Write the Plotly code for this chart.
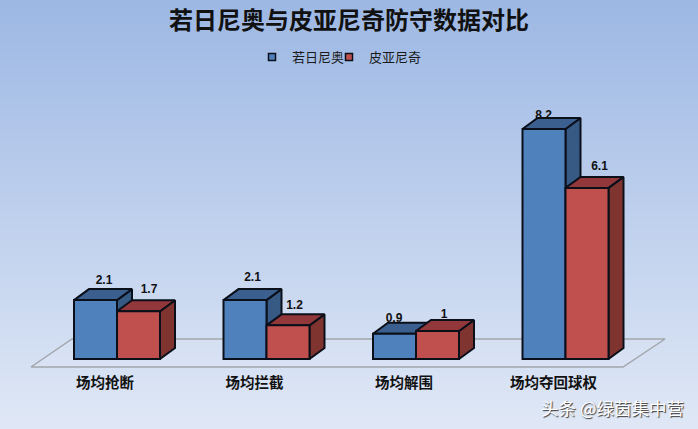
import plotly.graph_objects as go

# 数据
categories = ['场均抢断', '场均拦截', '场均解围', '场均夺回球权']
series_names = ['若日尼奥', '皮亚尼奇']
brazil = [2.1, 2.1, 0.9, 8.2]
pjanic = [1.7, 1.2, 1.0, 6.1]
# 标签文字的像素微调
lift_blue = [8, 11, 4, 2]
lift_red = [10, 8, 5, 10]
nudge_blue = [1, 0, -8, -8]
nudge_red = [3, -1, -1, 5]

W, H = 698, 429
PX_X = 149.5   # 每个类别的像素宽度
PX_Y = 28.05   # 每单位数值的像素高度
ZERO_X = 105   # 第一个类别标签中心
ZERO_Y = 359   # 基线

bar_w = 43 / PX_X
shift = 12 / PX_X        # 柱组相对标签中心右移
dx = 15 / PX_X           # 立体深度
dy = 11 / PX_Y

FONT = 'Noto Sans CJK SC'
fig = go.Figure()

# 背景渐变
top_c = (157, 184, 228)
bot_c = (224, 232, 246)
shapes = []
step = 4
for py in range(0, H, step):
    t = py / H
    c = tuple(round(a + (b - a) * t) for a, b in zip(top_c, bot_c))
    shapes.append(dict(type='rect', xref='paper', yref='paper', layer='below',
                       x0=0, x1=1, y0=1 - py / H, y1=1 - (py + step) / H,
                       fillcolor='rgb(%d,%d,%d)' % c, line_width=0))

# 地板
fl = -8 / PX_Y
fig.add_trace(go.Scatter(
    x=[-74 / PX_X, 518 / PX_X, 560 / PX_X, -33 / PX_X, -74 / PX_X],
    y=[fl, fl, 20 / PX_Y, 20 / PX_Y, fl],
    mode='lines', line=dict(color='#a3a6ab', width=1.5),
    fill='toself', fillcolor='rgba(255,255,255,0.08)',
    showlegend=False, hoverinfo='skip', zorder=0))


def add_cube_faces(left, value, top_col, side_col, z):
    right = left + bar_w
    fig.add_trace(go.Scatter(
        x=[right, right + dx, right + dx, right, right],
        y=[0, dy, value + dy, value, 0],
        mode='lines', line=dict(color='#0b0f1a', width=2),
        fill='toself', fillcolor=side_col,
        showlegend=False, hoverinfo='skip', zorder=z))
    fig.add_trace(go.Scatter(
        x=[left, left + dx, right + dx, right, left],
        y=[value, value + dy, value + dy, value, value],
        mode='lines', line=dict(color='#0b0f1a', width=2),
        fill='toself', fillcolor=top_col,
        showlegend=False, hoverinfo='skip', zorder=z))


xs = list(range(len(categories)))
for i in xs:
    add_cube_faces(i + shift - bar_w, brazil[i], '#3b5f8f', '#375a85', 1)
    add_cube_faces(i + shift, pjanic[i], '#92383a', '#7f3430', 3)

# 正面
fig.add_trace(go.Bar(x=xs, y=brazil, name=series_names[0], width=bar_w, offset=shift - bar_w, showlegend=False,
                     marker=dict(color='#4f81bd', line=dict(color='#0b0f1a', width=2)), zorder=2))
fig.add_trace(go.Bar(x=xs, y=pjanic, name=series_names[1], width=bar_w, offset=shift, showlegend=False,
                     marker=dict(color='#c0504d', line=dict(color='#0b0f1a', width=2)), zorder=4))

# 图例用小方块，最后一个空白项只为撑开图例宽度
for name, col in zip(series_names, ['#4f81bd', '#c0504d']):
    fig.add_trace(go.Scatter(x=[None], y=[None], name=name, mode='markers',
                             marker=dict(symbol='square', size=7, color=col, line=dict(color='#0b0f1a', width=1.5))))
fig.add_trace(go.Scatter(x=[None], y=[None], name=' ', mode='markers',
                         marker=dict(size=1, color='rgba(0,0,0,0)', line=dict(width=0))))

# 数据标签
for vals, lifts, nudges, off in [(brazil, lift_blue, nudge_blue, -bar_w / 2), (pjanic, lift_red, nudge_red, bar_w / 2)]:
    fig.add_trace(go.Scatter(
        x=[i + shift + off + dx / 2 + n / PX_X for i, n in zip(xs, nudges)],
        y=[v + dy + l / PX_Y for v, l in zip(vals, lifts)],
        mode='text', text=['%g' % v for v in vals], textposition='middle center',
        textfont=dict(family='Liberation Sans', size=12, color='#101010', weight=700),
        showlegend=False, hoverinfo='skip', zorder=5))

fig.update_layout(
    width=W, height=H, margin=dict(l=0, r=0, t=0, b=0),
    barmode='overlay', plot_bgcolor='rgba(0,0,0,0)', paper_bgcolor='#c0d0ec',
    font=dict(family=FONT, color='#111111'),
    shapes=shapes,
    title=dict(text='若日尼奥与皮亚尼奇防守数据对比', x=349 / W, xanchor='center', y=1 - 21 / H, yanchor='middle',
               font=dict(family=FONT, size=24, color='#111111', weight=700)),
    legend=dict(orientation='h', x=252 / W, xanchor='left', y=1 - 57 / H, yanchor='middle',
                bgcolor='rgba(0,0,0,0)', font=dict(size=13, color='#1a1a1a'),
                itemwidth=30, entrywidth=32, entrywidthmode='pixels', traceorder='normal'),
    xaxis=dict(range=[-ZERO_X / PX_X, (W - ZERO_X) / PX_X], tickmode='array', tickvals=xs, ticktext=categories,
               anchor='free', position=1 - 372 / H, showline=False, showgrid=False, zeroline=False, ticks='',
               tickfont=dict(family=FONT, size=14.5, color='#111111', weight=700), ticklabelstandoff=0),
    yaxis=dict(range=[-(H - ZERO_Y) / PX_Y, ZERO_Y / PX_Y], visible=False),
    annotations=[dict(text='头条 @绿茵集中营', xref='paper', yref='paper', x=686 / W, xanchor='right',
                      y=1 - 407 / H, yanchor='middle', showarrow=False,
                      font=dict(family=FONT, size=17.5, color='#ffffff', shadow='1px 1px 1px #333333'))],
)

# 去掉页面默认边距
fig.write_html('out.html', config={'displayModeBar': False}, post_script="document.body.style.margin='0';")
